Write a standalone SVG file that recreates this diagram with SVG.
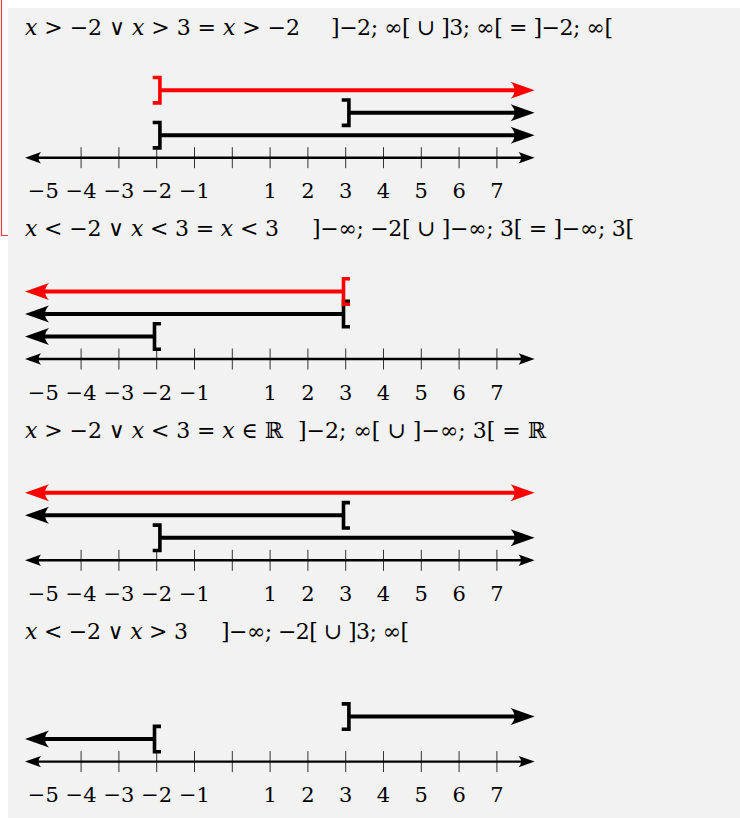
<svg xmlns="http://www.w3.org/2000/svg" width="740" height="818" viewBox="0 0 740 818" font-family="DejaVu Serif, Liberation Serif, serif" font-size="21">
<style>
text{fill:#000}
.ttl{font-size:22px}
.lbl{text-anchor:middle}
.it{font-style:italic}
.axis{stroke:#000;stroke-width:2.4;fill:none;marker-start:url(#axA);marker-end:url(#axA)}
.tick{stroke:#333;stroke-width:1}
.ivK{stroke:#000;stroke-width:4;fill:none}
.ivR{stroke:#f00;stroke-width:4;fill:none}
.brK{stroke:#000;stroke-width:3.6;fill:none;stroke-linejoin:miter}
.brR{stroke:#f00;stroke-width:3.6;fill:none;stroke-linejoin:miter}
.rK{marker-end:url(#arK)}
.lK{marker-start:url(#arK)}
.rR{marker-end:url(#arR)}
.lR{marker-start:url(#arR)}
</style>
<defs>
<marker id="axA" viewBox="0 -6 16 12" markerWidth="16" markerHeight="12" refX="11" refY="0" markerUnits="userSpaceOnUse" orient="auto-start-reverse" overflow="visible">
<path d="M16,0 L0,-5.7 Q5,0 0,5.7 Z" fill="#000"/>
</marker>
<marker id="arK" viewBox="0 -9 24 18" markerWidth="24" markerHeight="18" refX="17" refY="0" markerUnits="userSpaceOnUse" orient="auto-start-reverse" overflow="visible">
<path d="M24,0 L0,-8.5 Q8,0 0,8.5 Z" fill="#000"/>
</marker>
<marker id="arR" viewBox="0 -9 24 18" markerWidth="24" markerHeight="18" refX="17" refY="0" markerUnits="userSpaceOnUse" orient="auto-start-reverse" overflow="visible">
<path d="M24,0 L0,-8.5 Q8,0 0,8.5 Z" fill="#f00"/>
</marker>
<path id="bR" d="M-4,-12.7 H3.2 V12.7 H-4"/>
<path id="bL" d="M4.3,-12.7 H-2.2 V12.7 H4.3"/>
<g id="ticks">
<line class="tick" x1="81.1" y1="-10.5" x2="81.1" y2="10.5"/>
<line class="tick" x1="118.9" y1="-10.5" x2="118.9" y2="10.5"/>
<line class="tick" x1="156.7" y1="-10.5" x2="156.7" y2="10.5"/>
<line class="tick" x1="194.5" y1="-10.5" x2="194.5" y2="10.5"/>
<line class="tick" x1="232.3" y1="-10.5" x2="232.3" y2="10.5"/>
<line class="tick" x1="270.1" y1="-10.5" x2="270.1" y2="10.5"/>
<line class="tick" x1="307.9" y1="-10.5" x2="307.9" y2="10.5"/>
<line class="tick" x1="345.7" y1="-10.5" x2="345.7" y2="10.5"/>
<line class="tick" x1="383.5" y1="-10.5" x2="383.5" y2="10.5"/>
<line class="tick" x1="421.3" y1="-10.5" x2="421.3" y2="10.5"/>
<line class="tick" x1="459.1" y1="-10.5" x2="459.1" y2="10.5"/>
<line class="tick" x1="496.9" y1="-10.5" x2="496.9" y2="10.5"/>
<line class="axis" x1="30" y1="0" x2="529.6" y2="0"/>
</g>
<g id="labels">
<text class="lbl" x="43.3" y="40.8">−5</text>
<text class="lbl" x="81.1" y="40.8">−4</text>
<text class="lbl" x="118.9" y="40.8">−3</text>
<text class="lbl" x="156.7" y="40.8">−2</text>
<text class="lbl" x="194.5" y="40.8">−1</text>
<text class="lbl" x="270.1" y="40.8">1</text>
<text class="lbl" x="307.9" y="40.8">2</text>
<text class="lbl" x="345.7" y="40.8">3</text>
<text class="lbl" x="383.5" y="40.8">4</text>
<text class="lbl" x="421.3" y="40.8">5</text>
<text class="lbl" x="459.1" y="40.8">6</text>
<text class="lbl" x="496.9" y="40.8">7</text>
</g>
</defs>
<rect x="8" y="8" width="732" height="810" fill="#f2f2f2"/>
<path d="M1.5,0 V235.5 H8" fill="none" stroke="#e53935" stroke-width="1.2"/>

<g id="section-1">
<text class="ttl" x="25" y="35" textLength="275" lengthAdjust="spacing"><tspan class="it">x</tspan> &gt; −2 ∨ <tspan class="it">x</tspan> &gt; 3 = <tspan class="it">x</tspan> &gt; −2</text>
<text class="ttl" x="331" y="35" textLength="282" lengthAdjust="spacing">]−2; ∞[ ∪ ]3; ∞[ = ]−2; ∞[</text>
<use href="#ticks" x="0" y="157.7"/>
<use href="#labels" x="0" y="157.7"/>
<g id="intervals-1">
<line class="ivR rR" x1="159.9" y1="90.2" x2="527.6" y2="90.2"/>
<use href="#bR" class="brR" x="156.7" y="90.2"/>
<line class="ivK rK" x1="348.9" y1="112.7" x2="527.6" y2="112.7"/>
<use href="#bR" class="brK" x="345.7" y="112.7"/>
<line class="ivK rK" x1="159.9" y1="135.2" x2="527.6" y2="135.2"/>
<use href="#bR" class="brK" x="156.7" y="135.2"/>
</g>
</g>

<g id="section-2">
<text class="ttl" x="25" y="236.3" textLength="254" lengthAdjust="spacing"><tspan class="it">x</tspan> &lt; −2 ∨ <tspan class="it">x</tspan> &lt; 3 = <tspan class="it">x</tspan> &lt; 3</text>
<text class="ttl" x="312" y="236.3" textLength="322" lengthAdjust="spacing">]−∞; −2[ ∪ ]−∞; 3[ = ]−∞; 3[</text>
<use href="#ticks" x="0" y="359"/>
<use href="#labels" x="0" y="359"/>
<g id="intervals-2">
<line class="ivK lK" x1="32" y1="314" x2="343.5" y2="314"/>
<use href="#bL" class="brK" x="345.7" y="314"/>
<line class="ivK lK" x1="32" y1="336.5" x2="154.5" y2="336.5"/>
<use href="#bL" class="brK" x="156.7" y="336.5"/>
<line class="ivR lR" x1="32" y1="291.5" x2="343.5" y2="291.5"/>
<use href="#bL" class="brR" x="345.7" y="291.5"/>
</g>
</g>

<g id="section-3">
<text class="ttl" x="25" y="437.6" textLength="258" lengthAdjust="spacing"><tspan class="it">x</tspan> &gt; −2 ∨ <tspan class="it">x</tspan> &lt; 3 = <tspan class="it">x</tspan> ∈ ℝ</text>
<text class="ttl" x="298" y="437.6" textLength="248" lengthAdjust="spacing">]−2; ∞[ ∪ ]−∞; 3[ = ℝ</text>
<use href="#ticks" x="0" y="560.3"/>
<use href="#labels" x="0" y="560.3"/>
<g id="intervals-3">
<line class="ivR lR rR" x1="32" y1="492.8" x2="527.6" y2="492.8"/>
<line class="ivK lK" x1="32" y1="515.3" x2="343.5" y2="515.3"/>
<use href="#bL" class="brK" x="345.7" y="515.3"/>
<line class="ivK rK" x1="159.9" y1="537.8" x2="527.6" y2="537.8"/>
<use href="#bR" class="brK" x="156.7" y="537.8"/>
</g>
</g>

<g id="section-4">
<text class="ttl" x="25" y="638.9" textLength="163" lengthAdjust="spacing"><tspan class="it">x</tspan> &lt; −2 ∨ <tspan class="it">x</tspan> &gt; 3</text>
<text class="ttl" x="221" y="638.9" textLength="188" lengthAdjust="spacing">]−∞; −2[ ∪ ]3; ∞[</text>
<use href="#ticks" x="0" y="761.6"/>
<use href="#labels" x="0" y="761.6"/>
<g id="intervals-4">
<line class="ivK rK" x1="348.9" y1="716.6" x2="527.6" y2="716.6"/>
<use href="#bR" class="brK" x="345.7" y="716.6"/>
<line class="ivK lK" x1="32" y1="739.1" x2="154.5" y2="739.1"/>
<use href="#bL" class="brK" x="156.7" y="739.1"/>
</g>
</g>
</svg>
